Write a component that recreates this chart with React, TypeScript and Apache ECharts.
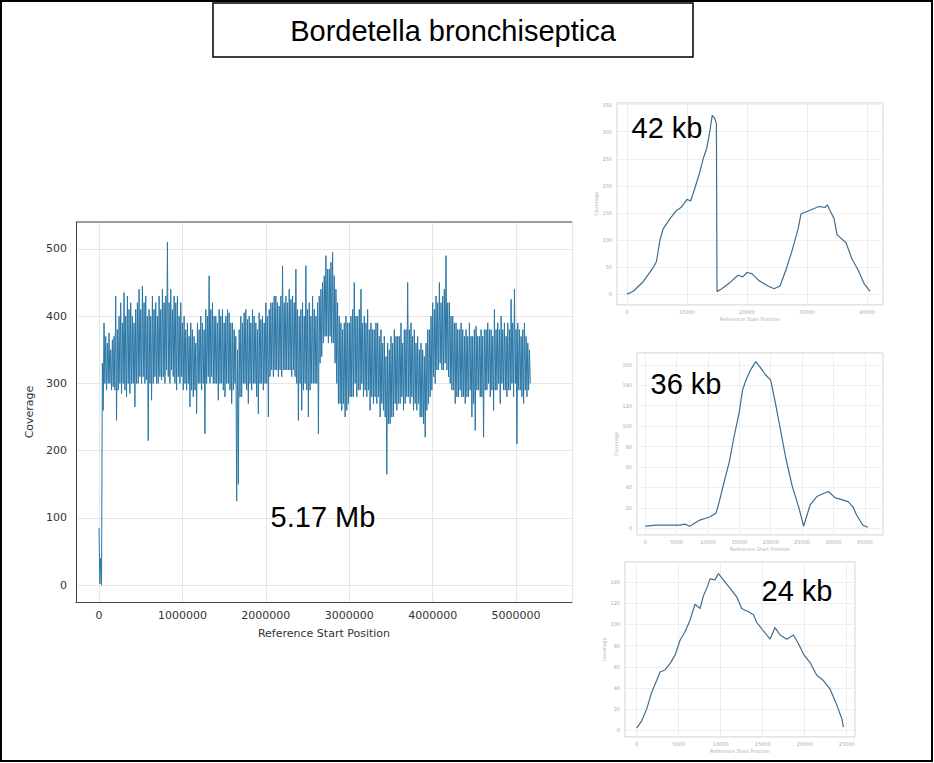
import React, { useEffect, useRef } from "react";
import * as echarts from "echarts";

const TITLE = "Bordetella bronchiseptica";

// Main genome coverage (5.17 Mb): per 20 kb bin, the upper and lower
// excursion of the coverage trace.
const MAIN_STEP = 20000;
const mainUpper = [
  85, 40, 330, 390, 370, 360, 375, 350, 365, 370,
  430, 380, 400, 420, 390, 435, 400, 430, 410, 420,
  400, 390, 410, 420, 440, 410, 445, 420, 430, 400,
  410, 400, 430, 410, 420, 400, 430, 410, 440, 420,
  430, 510, 420, 440, 410, 430, 420, 430, 400, 420,
  390, 400, 380, 390, 370, 390, 380, 370, 360, 390,
  380, 400, 390, 380, 410, 400, 460, 410, 420, 400,
  400, 390, 410, 400, 410, 390, 400, 410, 405, 390,
  390, 380, 370, 350, 380, 400, 390, 405, 410, 395,
  400, 390, 410, 400, 390, 380, 405, 395, 400, 390,
  420, 400, 410, 420, 420, 430, 430, 420, 415, 430,
  475, 420, 430, 420, 440, 425, 430, 420, 470, 410,
  400, 410, 420, 400, 475, 410, 420, 400, 430, 410,
  400, 420, 430, 440, 450, 460, 490, 470, 470, 480,
  495, 460, 440, 420, 400, 390, 380, 390, 400, 390,
  390, 400, 410, 450, 400, 400, 410, 440, 390, 400,
  390, 410, 380, 390, 380, 380, 390, 390, 370, 380,
  360, 370, 340, 360, 350, 370, 360, 380, 370, 370,
  370, 390, 360, 380, 380, 450, 380, 390, 370, 380,
  360, 370, 350, 360, 350, 340, 360, 380, 380, 400,
  420, 410, 430, 420, 450, 420, 430, 440, 490, 420,
  420, 400, 400, 390, 390, 380, 380, 390, 380, 370,
  380, 370, 390, 370, 370, 380, 385, 370, 370, 380,
  370, 380, 380, 390, 380, 380, 370, 410, 380, 390,
  380, 400, 380, 390, 370, 390, 380, 425, 390, 440,
  380, 390, 380, 370, 380, 390, 370, 360, 350,
];
const mainLower = [
  2, 0, 260, 300, 290, 300, 300, 290, 295, 290,
  245, 290, 300, 285, 300, 290, 280, 300, 285, 300,
  300, 265, 300, 300, 310, 300, 310, 300, 305, 215,
  300, 275, 300, 310, 300, 300, 310, 305, 310, 300,
  320, 310, 300, 320, 310, 300, 290, 310, 300, 310,
  290, 300, 290, 300, 265, 290, 280, 290, 255, 300,
  300, 290, 300, 225, 300, 310, 300, 310, 300, 300,
  300, 275, 300, 300, 290, 280, 300, 300, 290, 270,
  290, 300, 125, 150, 280, 280, 300, 300, 290, 270,
  300, 290, 300, 300, 280, 255, 300, 300, 290, 300,
  300, 250, 310, 320, 310, 320, 320, 310, 320, 310,
  320, 320, 320, 320, 320, 310, 320, 310, 300, 245,
  300, 260, 290, 300, 290, 250, 290, 300, 300, 300,
  300, 225, 330, 340, 360, 370, 370, 360, 370, 360,
  360, 330, 300, 270, 270, 260, 270, 250, 260, 270,
  280, 280, 280, 300, 280, 290, 290, 300, 280, 290,
  280, 290, 260, 280, 270, 280, 270, 280, 250, 270,
  260, 250, 165, 240, 240, 250, 250, 270, 260, 270,
  270, 280, 260, 270, 280, 280, 270, 280, 260, 270,
  260, 270, 250, 250, 240, 220, 260, 270, 280, 290,
  310, 300, 320, 320, 330, 320, 320, 330, 320, 310,
  300, 290, 290, 270, 280, 280, 290, 280, 280, 270,
  280, 280, 290, 250, 270, 230, 290, 290, 280, 280,
  220, 290, 290, 300, 280, 290, 260, 290, 290, 300,
  270, 300, 290, 290, 280, 290, 290, 300, 280, 300,
  210, 290, 290, 280, 270, 290, 280, 290, 300,
];

// 42 kb contig
const pos42 = [0, 1000, 2700, 4300, 4900, 5500, 6000, 7200, 8300, 9000, 10000, 10600, 11000, 12000, 12700, 13300, 13800, 14200, 14600, 14900, 15000, 15800, 17000, 18500, 19300, 20000, 20800, 22000, 23500, 24500, 25500, 26500, 27500, 28500, 29000, 30500, 32000, 33000, 33400, 33800, 34500, 35000, 36500, 37500, 38500, 39500, 40500];
const cov42 = [0, 5, 23, 48, 60, 100, 120, 140, 155, 160, 175, 172, 185, 220, 250, 270, 300, 330, 325, 315, 5, 10, 20, 35, 32, 40, 38, 25, 15, 10, 15, 45, 80, 120, 148, 155, 162, 160, 165, 155, 140, 110, 95, 65, 45, 20, 5];

// 36 kb contig
const pos36 = [0, 1800, 4000, 5500, 6300, 7100, 8700, 10260, 11300, 11800, 12600, 13400, 14200, 15000, 15500, 16000, 16800, 17600, 18400, 19200, 20000, 20800, 21600, 22400, 23400, 24500, 25250, 26300, 27350, 28400, 29200, 30250, 31300, 32350, 33100, 33700, 34700, 35500];
const cov36 = [2, 3, 3, 3, 4, 2, 8, 11, 15, 26, 46, 65, 91, 114, 135, 144, 155, 163, 157, 150, 145, 121, 95, 69, 42, 20, 2, 23, 31, 34, 36, 30, 28, 26, 21, 13, 3, 1];

// 24 kb contig
const pos24 = [0, 600, 1190, 1790, 2380, 2780, 3370, 3970, 4570, 5160, 5760, 6350, 6950, 7540, 7940, 8340, 8730, 9330, 9730, 10320, 11120, 11910, 12500, 13300, 13900, 14290, 15080, 15880, 16470, 17070, 17870, 18660, 19250, 19850, 20640, 21440, 22230, 23020, 23820, 24420, 24610];
const cov24 = [2, 9, 20, 36, 47, 55, 57, 63, 71, 85, 93, 104, 119, 115, 127, 134, 143, 142, 148, 142, 134, 126, 115, 112, 109, 102, 94, 86, 97, 90, 86, 90, 82, 72, 64, 52, 47, 39, 24, 11, 3];

const X_NAME = "Reference Start Position";
const Y_NAME = "Coverage";

const pair = (xs: number[], ys: number[]) => xs.map((x, i) => [x, ys[i]]);

const MAIN_FONT = "DejaVu Sans";

function smallX(gridIndex: number, min: number, max: number, step: number) {
  return {
    type: "value",
    gridIndex,
    min,
    max,
    splitNumber: Math.round((max - min) / step),
    axisLine: { show: false, onZero: false },
    axisTick: { show: false },
    splitLine: { show: true, lineStyle: { color: "#eeeeee", width: 1 } },
    axisLabel: {
      fontSize: 5,
      color: "#aaa",
      margin: 4,
      fontFamily: MAIN_FONT,
      showMinLabel: false,
      showMaxLabel: false,
      formatter: (v: number) => (v % step === 0 ? String(v) : ""),
    },
    name: X_NAME,
    nameLocation: "middle",
    nameGap: 11,
    nameTextStyle: { fontSize: 5, color: "#b0b0b0", fontFamily: MAIN_FONT },
  };
}

function smallY(gridIndex: number, min: number, max: number, step: number) {
  return {
    type: "value",
    gridIndex,
    min,
    max,
    splitNumber: Math.round((max - min) / step),
    axisLine: { show: false, onZero: false },
    axisTick: { show: false },
    splitLine: { show: true, lineStyle: { color: "#eeeeee", width: 1 } },
    axisLabel: {
      fontSize: 5,
      color: "#aaa",
      margin: 5,
      fontFamily: MAIN_FONT,
      showMinLabel: false,
      showMaxLabel: false,
      formatter: (v: number) => (v % step === 0 ? String(v) : ""),
    },
    name: Y_NAME,
    nameLocation: "middle",
    nameGap: 18,
    nameTextStyle: { fontSize: 5, color: "#b0b0b0", fontFamily: MAIN_FONT },
  };
}

function buildOption() {
  const mainData: number[][] = [];
  mainUpper.forEach((u, i) => {
    mainData.push([i * MAIN_STEP, u]);
    mainData.push([i * MAIN_STEP + MAIN_STEP / 2, mainLower[i]]);
  });
  const bigFont = "29px 'Liberation Sans', Arial, sans-serif";
  return {
    animation: false,
    backgroundColor: "#ffffff",
    grid: [
      { left: 76, top: 222, right: 362, bottom: 161, show: false },
      { left: 617, top: 103, right: 51, bottom: 458, show: true, borderColor: "#c8c8c8", borderWidth: 1, backgroundColor: "transparent" },
      { left: 637, top: 353, right: 51, bottom: 228, show: true, borderColor: "#c8c8c8", borderWidth: 1, backgroundColor: "transparent" },
      { left: 625, top: 562, right: 79, bottom: 26, show: true, borderColor: "#c8c8c8", borderWidth: 1, backgroundColor: "transparent" },
    ],
    xAxis: [
      {
        type: "value",
        gridIndex: 0,
        min: -276000,
        max: 5670000,
        splitNumber: 6,
        axisLine: { show: true, onZero: false, lineStyle: { color: "#444", width: 1 } },
        axisTick: { show: false },
        splitLine: { show: true, lineStyle: { color: "#e6e6e6", width: 1 } },
        axisLabel: {
          fontSize: 11,
          color: "#333",
          margin: 8,
          fontFamily: MAIN_FONT,
          showMinLabel: false,
          showMaxLabel: false,
          formatter: (v: number) => (v % 1000000 === 0 ? String(v) : ""),
        },
        name: X_NAME,
        nameLocation: "middle",
        nameGap: 26,
        nameTextStyle: { fontSize: 11, color: "#333", fontFamily: MAIN_FONT },
      },
      smallX(1, -1667, 42667, 10000),
      smallX(2, -1320, 37910, 5000),
      smallX(3, -1390, 25990, 5000),
    ],
    yAxis: [
      {
        type: "value",
        gridIndex: 0,
        min: -25,
        max: 540,
        splitNumber: 6,
        axisLine: { show: true, onZero: false, lineStyle: { color: "#444", width: 1 } },
        axisTick: { show: false },
        splitLine: { show: true, lineStyle: { color: "#e6e6e6", width: 1 } },
        axisLabel: {
          fontSize: 11,
          color: "#333",
          margin: 9,
          fontFamily: MAIN_FONT,
          showMinLabel: false,
          showMaxLabel: false,
          formatter: (v: number) => (v % 100 === 0 ? String(v) : ""),
        },
        name: Y_NAME,
        nameLocation: "middle",
        nameGap: 29,
        nameTextStyle: { fontSize: 11, color: "#333", fontFamily: MAIN_FONT },
      },
      smallY(1, -20, 353, 50),
      smallY(2, -6.6, 171.5, 20),
      smallY(3, -6.3, 158.9, 20),
    ],
    series: [
      {
        type: "line",
        xAxisIndex: 0,
        yAxisIndex: 0,
        data: mainData,
        showSymbol: false,
        symbol: "none",
        lineStyle: { color: "#2a77a6", width: 1 },
      },
      {
        type: "line",
        xAxisIndex: 1,
        yAxisIndex: 1,
        data: pair(pos42, cov42),
        symbol: "none",
        lineStyle: { color: "#3f6d8e", width: 1.2 },
      },
      {
        type: "line",
        xAxisIndex: 2,
        yAxisIndex: 2,
        data: pair(pos36, cov36),
        symbol: "none",
        lineStyle: { color: "#3f6d8e", width: 1.2 },
      },
      {
        type: "line",
        xAxisIndex: 3,
        yAxisIndex: 3,
        data: pair(pos24, cov24),
        symbol: "none",
        lineStyle: { color: "#3f6d8e", width: 1.2 },
      },
    ],
    graphic: [
      { type: "rect", shape: { x: 1, y: 1, width: 931, height: 760 }, style: { fill: "none", stroke: "#000", lineWidth: 2 }, silent: true, z: 100 },
      { type: "rect", shape: { x: 213, y: 3, width: 480, height: 54 }, style: { fill: "#fff", stroke: "#000", lineWidth: 1.5 }, z: 100 },
      { type: "text", x: 453, y: 31, style: { text: TITLE, font: "29px 'Liberation Sans', Arial, sans-serif", fill: "#000", align: "center", verticalAlign: "middle" }, z: 101 },
      { type: "line", shape: { x1: 76, y1: 222, x2: 572, y2: 222 }, style: { stroke: "#444", lineWidth: 1 }, z: 50 },
      { type: "text", x: 323, y: 517, style: { text: "5.17 Mb", font: bigFont, fill: "#000", align: "center", verticalAlign: "middle" }, z: 101 },
      { type: "text", x: 667, y: 128, style: { text: "42 kb", font: bigFont, fill: "#000", align: "center", verticalAlign: "middle" }, z: 101 },
      { type: "text", x: 686, y: 384, style: { text: "36 kb", font: bigFont, fill: "#000", align: "center", verticalAlign: "middle" }, z: 101 },
      { type: "text", x: 797, y: 591, style: { text: "24 kb", font: bigFont, fill: "#000", align: "center", verticalAlign: "middle" }, z: 101 },
    ],
  };
}

export default function App() {
  const ref = useRef<HTMLDivElement>(null);
  useEffect(() => {
    if (!ref.current) return;
    const chart = echarts.init(ref.current, null, { renderer: "svg" });
    chart.setOption(buildOption() as any);
    return () => chart.dispose();
  }, []);
  return (
    <div
      ref={ref}
      style={{ position: "absolute", left: 0, top: 0, width: 934, height: 763, background: "#fff" }}
    />
  );
}
